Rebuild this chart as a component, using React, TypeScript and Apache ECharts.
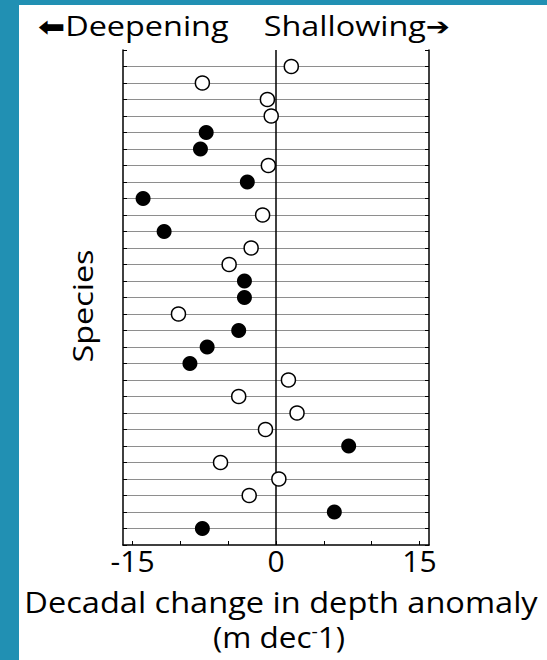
import React, { useEffect, useRef } from "react";
import * as echarts from "echarts";

// Decadal change in depth anomaly (m dec-1), one value per species, top to bottom
const depthChange = [
  1.6, -7.7, -0.9, -0.5, -7.3, -7.9, -0.8, -3.0, -13.9, -1.4,
  -11.7, -2.6, -4.9, -3.3, -3.3, -10.2, -3.9, -7.2, -9.0, 1.3,
  -3.9, 2.2, -1.1, 7.6, -5.8, 0.3, -2.8, 6.1, -7.7,
];
// filled (significant) markers
const significant = [
  false, false, false, false, true, true, false, true, true, false,
  true, false, false, true, true, false, true, true, true, false,
  false, false, false, true, false, false, false, true, true,
];
const xTickValues = [-15, -10, -5, 0, 5, 10, 15];
const xLabelValues = [-15, 0, 15];

const TEAL = "#2190B3";
const FONT = "'Open Sans', 'DejaVu Sans', sans-serif";
const ARROW_FONT = "'DejaVu Sans', sans-serif";

export default function App() {
  const ref = useRef<HTMLDivElement>(null);
  useEffect(() => {
    if (!ref.current) return;
    const chart = echarts.init(ref.current, null, { renderer: "svg" });
    const filled = depthChange
      .map((v, i) => (significant[i] ? [v, i + 1] : null))
      .filter((d) => d !== null);
    const open = depthChange
      .map((v, i) => (!significant[i] ? [v, i + 1] : null))
      .filter((d) => d !== null);

    const yAxisBase = {
      type: "value",
      min: 0,
      max: 30,
      interval: 1,
      inverse: true,
      axisLine: { show: true, onZero: false, lineStyle: { color: "#000", width: 1.5 } },
      axisTick: { show: true, inside: true, length: 4, lineStyle: { color: "#000", width: 1 } },
      axisLabel: { show: false },
    };

    chart.setOption({
      animation: false,
      backgroundColor: "#ffffff",
      grid: { left: 123, right: 118, top: 50, bottom: 115 },
      xAxis: {
        type: "value",
        min: -16,
        max: 16,
        axisLine: { show: true, onZero: false, lineStyle: { color: "#000", width: 1.5 } },
        axisTick: {
          show: true,
          inside: true,
          length: 4,
          customValues: xTickValues,
          lineStyle: { color: "#000", width: 1 },
        },
        axisLabel: {
          customValues: xLabelValues,
          fontSize: 30,
          fontFamily: FONT,
          color: "#000",
          margin: 0,
        },
        splitLine: { show: false },
      },
      yAxis: [
        {
          ...yAxisBase,
          position: "left",
          splitLine: {
            show: true,
            showMinLine: false,
            showMaxLine: false,
            lineStyle: { color: "#8e8e8e", width: 1 },
          },
        },
        { ...yAxisBase, position: "right", splitLine: { show: false } },
      ],
      series: [
        {
          type: "scatter",
          name: "Not significant",
          z: 3,
          data: open,
          symbol: "circle",
          symbolSize: 14,
          itemStyle: { color: "#fff", borderColor: "#000", borderWidth: 1.5, opacity: 1 },
          markLine: {
            z: 1,
            silent: true,
            symbol: "none",
            label: { show: false },
            lineStyle: { color: "#000", width: 1.5, type: "solid" },
            data: [{ xAxis: 0 }],
          },
        },
        {
          type: "scatter",
          name: "Significant",
          z: 3,
          data: filled,
          symbol: "circle",
          symbolSize: 15,
          itemStyle: { color: "#000", opacity: 1 },
        },
      ],
      graphic: [
        { type: "rect", left: 0, top: 0, shape: { width: 19, height: 660 }, style: { fill: TEAL }, silent: true },
        { type: "rect", left: 0, top: 0, shape: { width: 547, height: 5 }, style: { fill: TEAL }, silent: true },
        {
          type: "text",
          x: 38,
          y: 26,
          scaleX: 1.2,
          style: {
            text: "{a|⬅}Deepening",
            font: `27px ${FONT}`,
            fill: "#000",
            align: "left",
            verticalAlign: "middle",
            rich: { a: { fontSize: 27, fontWeight: "bold", fontFamily: ARROW_FONT, fill: "#000" } },
          },
        },
        {
          type: "text",
          x: 450,
          y: 26,
          scaleX: 1.2,
          style: {
            text: "Shallowing{a|➔}",
            font: `27px ${FONT}`,
            fill: "#000",
            align: "right",
            verticalAlign: "middle",
            rich: { a: { fontSize: 24, fontWeight: "bold", fontFamily: ARROW_FONT, fill: "#000" } },
          },
        },
        {
          type: "text",
          x: 83,
          y: 306,
          rotation: Math.PI / 2,
          scaleX: 1.2,
          style: {
            text: "Species",
            font: `27px ${FONT}`,
            fill: "#000",
            align: "center",
            verticalAlign: "middle",
          },
        },
        {
          type: "text",
          x: 281,
          y: 601,
          scaleX: 1.085,
          style: {
            text: "Decadal change in depth anomaly",
            font: `30px ${FONT}`,
            fill: "#000",
            align: "center",
            verticalAlign: "middle",
          },
        },
        {
          type: "text",
          x: 279,
          y: 637,
          scaleX: 1.085,
          style: {
            text: "(m dec{s|-}1)",
            font: `29px ${FONT}`,
            fill: "#000",
            align: "center",
            verticalAlign: "middle",
            rich: { s: { fontSize: 18, verticalAlign: "top", fontFamily: FONT, fill: "#000", padding: [0, 0, 12, 0] } },
          },
        },
      ],
    });
    return () => chart.dispose();
  }, []);
  return (
    <div
      ref={ref}
      style={{ position: "fixed", left: 0, top: 0, width: 547, height: 660, background: "#fff" }}
    />
  );
}
